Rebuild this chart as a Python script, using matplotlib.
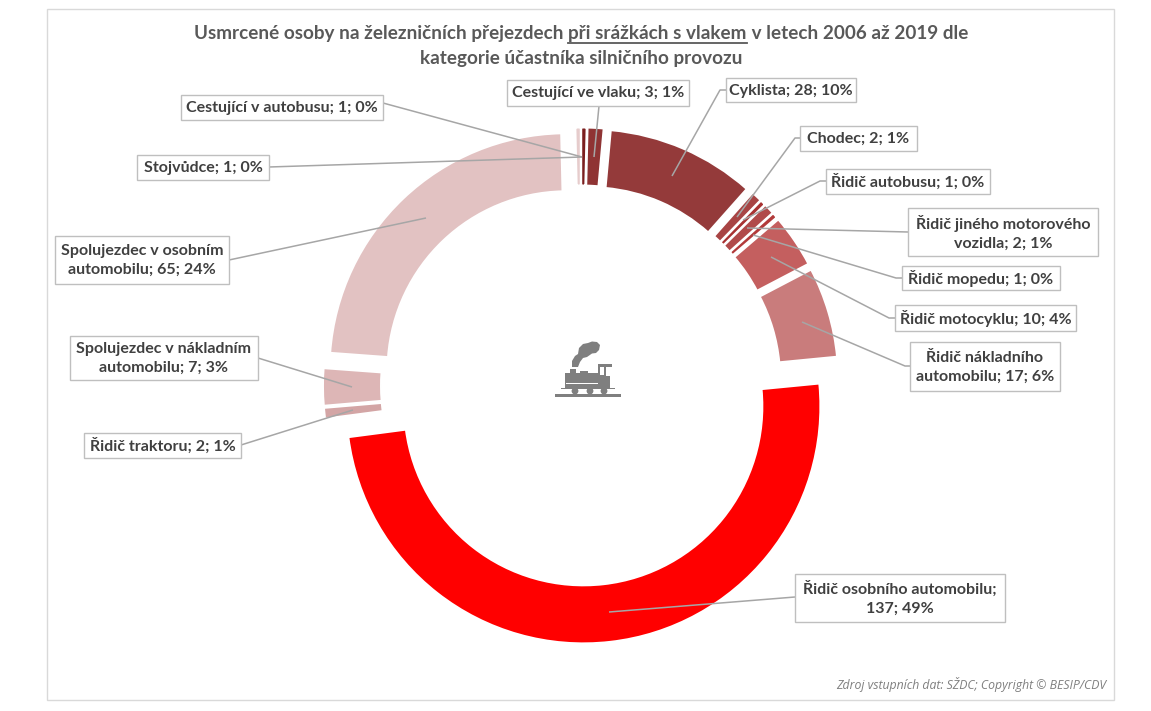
import matplotlib
matplotlib.use("Agg")
import matplotlib.pyplot as plt
from matplotlib.patches import Rectangle, Polygon, Circle

W, H = 1151, 711

# data, clockwise from 12 o'clock
names = [
    "Cestující v autobusu", "Cestující ve vlaku", "Cyklista", "Chodec",
    "Řidič autobusu", "Řidič jiného motorového\nvozidla", "Řidič mopedu",
    "Řidič motocyklu", "Řidič nákladního\nautomobilu", "Řidič osobního automobilu;\n",
    "Řidič traktoru", "Spolujezdec v nákladním\nautomobilu",
    "Spolujezdec v osobním\nautomobilu", "Stojvůdce",
]
values = [1, 3, 28, 2, 1, 2, 1, 10, 17, 137, 2, 7, 65, 1]
percents = [0, 1, 10, 1, 0, 1, 0, 4, 6, 49, 1, 3, 24, 0]
colors = [
    "#7b1f1f", "#8f3434", "#943a3a", "#a84444", "#a83232", "#b04a4a", "#b23a3a",
    "#c45f5f", "#c97c7c", "#ff0000", "#d3a5a5", "#ddb6b6", "#e2c2c2", "#e6cccc",
]

# label boxes (x0, y0, x1, y1) and leader lines in image pixels
boxes = [
    (181, 95, 383, 120), (507, 80, 689, 106), (726, 78, 856, 102), (800, 126, 917, 151),
    (826, 169, 990, 194), (908, 208, 1098, 256), (902, 266, 1060, 290), (895, 305, 1076, 331),
    (910, 342, 1060, 391), (795, 574, 1005, 622), (84, 433, 241, 458), (70, 336, 258, 380),
    (55, 236, 229, 284), (137, 155, 269, 180),
]
leaders = [
    [(383, 103), (582, 157)], [(599, 106), (594, 157)], [(726, 90), (720, 90), (672, 176)],
    [(800, 138), (795, 138), (737, 217)], [(826, 181), (820, 181), (743, 220)],
    [(908, 232), (747, 228)], [(902, 278), (896, 278), (753, 235)],
    [(895, 318), (889, 318), (771, 257)], [(910, 366), (905, 366), (802, 322)],
    [(795, 597), (609, 612)], [(241, 445), (327, 418), (353, 410)], [(258, 358), (352, 387)],
    [(229, 260), (426, 218)], [(269, 167), (582, 157)],
]

plt.rcParams["font.family"] = ["Lato", "DejaVu Sans"]
fig = plt.figure(figsize=(W / 100, H / 100), dpi=100, facecolor="white")

# donut
ax = fig.add_axes([0, 0, 1, 1])
ax.pie(values, colors=colors, explode=[21] * len(values), radius=237, center=(581, H - 385.5),
       startangle=90, counterclock=False,
       wedgeprops=dict(width=58, edgecolor="white", linewidth=1.4))
ax.set_xlim(0, W)
ax.set_ylim(0, H)
ax.axis("off")

# overlay in image pixels
ov = fig.add_axes([0, 0, 1, 1])
ov.set_xlim(0, W)
ov.set_ylim(H, 0)
ov.axis("off")
ov.patch.set_alpha(0)

ov.add_patch(Rectangle((47, 9), 1067, 691, fc="none", ec="#d9d9d9", lw=1))

TEXT = "#404040"
for name, v, p, box, line in zip(names, values, percents, boxes, leaders):
    ov.plot([q[0] for q in line], [q[1] for q in line], color="#a6a6a6", lw=1.1, zorder=2,
            solid_capstyle="butt")
    x0, y0, x1, y1 = box
    ov.add_patch(Rectangle((x0, y0), x1 - x0, y1 - y0, fc="white", ec="#bfbfbf", lw=1, zorder=3))
    sep = "" if name.endswith("\n") else "; "
    ov.text((x0 + x1) / 2, (y0 + y1) / 2 + 0.5, f"{name}{sep}{v}; {p}%", ha="center", va="center",
            ma="center", fontsize=11.5, fontweight="bold", color=TEXT, zorder=4, linespacing=1.42)

# title, middle part underlined
title_parts = ["Usmrcené osoby na železničních přejezdech ", "při srážkách s vlakem",
               " v letech 2006 až 2019 dle"]
TITLE = "#595959"
rend = fig.canvas.get_renderer()
kw = dict(fontsize=13.6, fontweight="bold", color=TITLE, va="baseline")


def width(s):
    t = ov.text(0, 0, s.replace(" ", "\u00a0"), **kw)
    w = t.get_window_extent(rend).width
    t.remove()
    return w


x = 581 - width("".join(title_parts)) / 2
for i, part in enumerate(title_parts):
    w = width(part)
    ov.text(x, 39, part.replace(" ", "\u00a0"), **kw)
    if i == 1:
        ov.plot([x, x + w], [42.5, 42.5], color=TITLE, lw=1.3)
    x += w
ov.text(581, 64, "kategorie účastníka silničního provozu", ha="center", fontsize=13.6,
        fontweight="bold", color=TITLE, va="baseline")

ov.text(1106, 684, "Zdroj vstupních dat: SŽDC; Copyright © BESIP/CDV", ha="right", va="center",
        fontsize=8.8, style="italic", color="#7f7f7f", family="Open Sans")

# locomotive icon
ICON = "#7f7f7f"
ov.add_patch(Rectangle((555, 394), 66, 2.8, fc=ICON, ec="none"))
ov.add_patch(Rectangle((565, 373), 33, 16, fc=ICON, ec="none"))
ov.add_patch(Rectangle((570, 369), 6, 6, fc=ICON, ec="none"))
ov.add_patch(Rectangle((580, 371), 8, 4, fc=ICON, ec="none"))
ov.add_patch(Polygon([(598, 364), (612, 364), (612, 366.5), (606, 366.5), (606, 376), (610, 376), (610, 388),
                      (598, 388)], fc=ICON, ec="none"))
ov.add_patch(Rectangle((600.5, 367), 3.5, 8, fc="white", ec="none"))
ov.add_patch(Rectangle((566, 383), 32, 0.8, fc="white", ec="none"))
ov.add_patch(Rectangle((561, 387.5), 54, 1, fc=ICON, ec="none"))
for cx in (575, 590, 604):
    ov.add_patch(Circle((cx, 391), 3.4, fc=ICON, ec="none"))
ov.add_patch(Polygon([(572, 367), (572, 361), (575, 356), (578, 354), (579, 348), (583, 344), (588, 343),
                      (592, 341.5), (597, 342), (600, 345), (599, 350), (596, 353), (592, 353.5), (587, 357),
                      (583, 358), (580, 362), (578, 367)], fc=ICON, ec="none"))

fig.savefig("out.png", dpi=100, facecolor="white")
